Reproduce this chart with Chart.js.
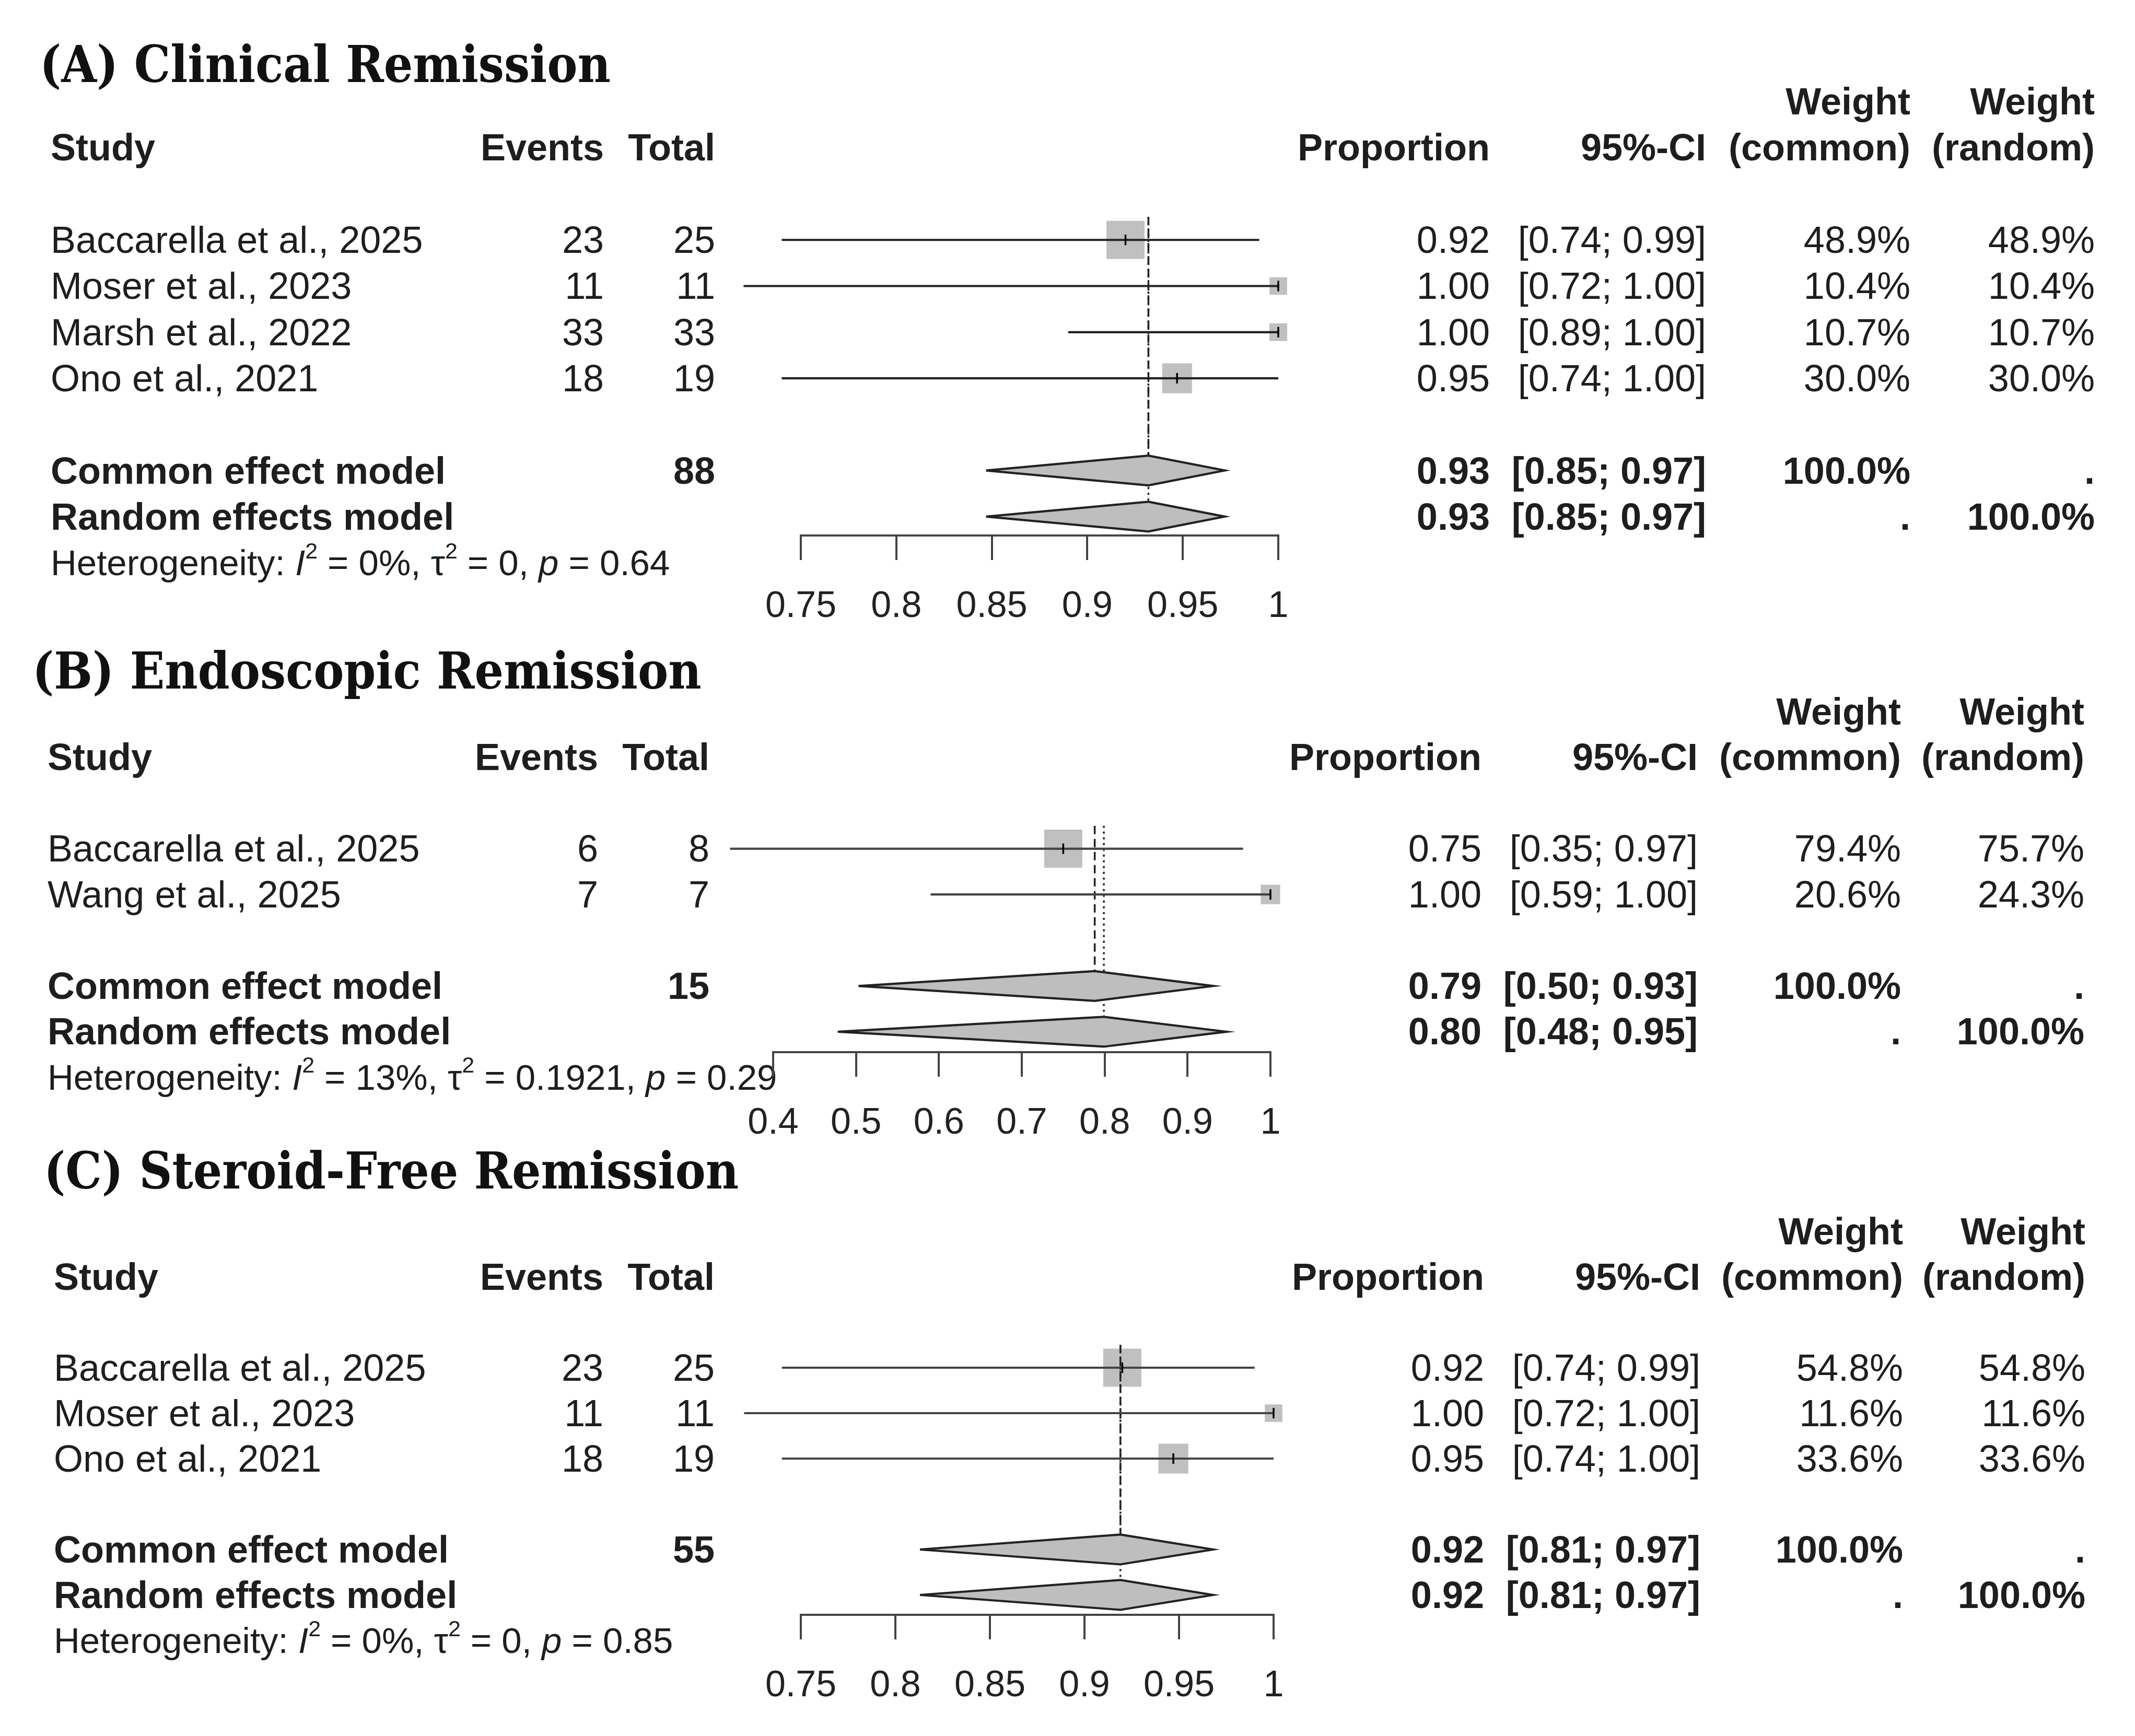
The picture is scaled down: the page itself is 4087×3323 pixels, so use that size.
<!DOCTYPE html>
<html lang="en">
<head>
<meta charset="UTF-8">
<title>Forest plots - remission outcomes</title>
<script src="https://cdn.jsdelivr.net/npm/chart.js"></script>
<style>
  html, body { margin: 0; padding: 0; background: #fff; }
  #page {
    position: relative; width: 4087px; height: 3323px; overflow: hidden; background: #fff;
    color: #1e1e1e; font-family: 'Liberation Sans', Arial, sans-serif; font-size: 72px;
  }
  .t { position: absolute; white-space: nowrap; line-height: 1; transform: translateY(-50%); }
  .b { font-weight: bold; }
  .het { font-size: 69px; }
  .title { font-family: 'DejaVu Serif Condensed', 'DejaVu Serif', serif; font-stretch: condensed; font-weight: bold; font-size: 97px; color: #111; }
  .sup { font-size: 0.62em; position: relative; top: -0.75em; }
  canvas { position: absolute; }
</style>
</head>
<body>
<div id="page"></div>
<script>
// ---- (A) Clinical Remission ----
const titleA = '(A) Clinical Remission';
const studiesA = ['Baccarella et al., 2025', 'Moser et al., 2023', 'Marsh et al., 2022', 'Ono et al., 2021'];
const eventsA = [23, 11, 33, 18];
const totalsA = [25, 11, 33, 19];
const propA = [0.92, 1.00, 1.00, 0.947];
const lowerA = [0.74, 0.72, 0.89, 0.74];
const upperA = [0.99, 1.00, 1.00, 1.00];
const weightCommonA = [48.9, 10.4, 10.7, 30.0];
const weightRandomA = [48.9, 10.4, 10.7, 30.0];
const pooledA = [0.932, 0.932];          // common, random
const pooledLowerA = [0.847, 0.847];
const pooledUpperA = [0.972, 0.972];
const pooledTotalA = 88;
const hetA = ['0%', '0', '0.64'];        // I^2, tau^2, p
const ticksA = [0.75, 0.8, 0.85, 0.9, 0.95, 1];

// ---- (B) Endoscopic Remission ----
const titleB = '(B) Endoscopic Remission';
const studiesB = ['Baccarella et al., 2025', 'Wang et al., 2025'];
const eventsB = [6, 7];
const totalsB = [8, 7];
const propB = [0.75, 1.00];
const lowerB = [0.348, 0.59];
const upperB = [0.967, 1.00];
const weightCommonB = [79.4, 20.6];
const weightRandomB = [75.7, 24.3];
const pooledB = [0.788, 0.799];
const pooledLowerB = [0.503, 0.478];
const pooledUpperB = [0.931, 0.947];
const pooledTotalB = 15;
const hetB = ['13%', '0.1921', '0.29'];
const ticksB = [0.4, 0.5, 0.6, 0.7, 0.8, 0.9, 1];

// ---- (C) Steroid-Free Remission ----
const titleC = '(C) Steroid-Free Remission';
const studiesC = ['Baccarella et al., 2025', 'Moser et al., 2023', 'Ono et al., 2021'];
const eventsC = [23, 11, 18];
const totalsC = [25, 11, 19];
const propC = [0.92, 1.00, 0.947];
const lowerC = [0.74, 0.72, 0.74];
const upperC = [0.99, 1.00, 1.00];
const weightCommonC = [54.8, 11.6, 33.6];
const weightRandomC = [54.8, 11.6, 33.6];
const pooledC = [0.919, 0.919];
const pooledLowerC = [0.813, 0.813];
const pooledUpperC = [0.968, 0.968];
const pooledTotalC = 55;
const hetC = ['0%', '0', '0.85'];
const ticksC = [0.75, 0.8, 0.85, 0.9, 0.95, 1];

// page geometry (pixels) for each panel
const geoA = { titleX: 76, titleY: 123, rowY: 459, pitch: 88.3, axisRow: 7.41, px0: 1533, px1: 2447,
               cols: [97, 1156, 1369, 2852, 3266, 3657, 4010], ink: '#222' };
const geoB = { titleX: 62, titleY: 1284, rowY: 1624, pitch: 87.5, axisRow: 5.446, px0: 1480, px1: 2432,
               cols: [91, 1145, 1358, 2836, 3250, 3639, 3990], ink: '#444' };
const geoC = { titleX: 84, titleY: 2241, rowY: 2618, pitch: 87, axisRow: 6.437, px0: 1533, px1: 2438,
               cols: [103, 1155, 1368, 2841, 3255, 3643, 3992], ink: '#444' };

const page = document.getElementById('page');
const W = 4087;
const fmt2 = v => v.toFixed(2);
const pct = v => v.toFixed(1) + '%';
const ci = (lo, hi) => '[' + fmt2(lo) + '; ' + fmt2(hi) + ']';

function put(x, y, html, cls, align) {
    const d = document.createElement('div');
    d.className = 't ' + (cls || '');
    if (align === 'right') d.style.right = (W - x) + 'px';
    else d.style.left = x + 'px';
    d.style.top = y + 'px';
    d.innerHTML = html;
    page.appendChild(d);
}

function drawPanel(p, g) {
    // row r (1 = first study) -> page y
    const rowPx = r => g.rowY + (r - 1) * g.pitch;
    const n = p.studies.length;
    const rowCommon = n + 2, rowRandom = n + 3, rowHet = n + 4;
    const [cStudy, cEvents, cTotal, cProp, cCI, cWc, cWr] = g.cols;

    put(g.titleX, g.titleY, p.title, 'title');

    put(cWc, rowPx(-2), 'Weight', 'b', 'right');
    put(cWr, rowPx(-2), 'Weight', 'b', 'right');
    put(cStudy, rowPx(-1), 'Study', 'b');
    put(cEvents, rowPx(-1), 'Events', 'b', 'right');
    put(cTotal, rowPx(-1), 'Total', 'b', 'right');
    put(cProp, rowPx(-1), 'Proportion', 'b', 'right');
    put(cCI, rowPx(-1), '95%-CI', 'b', 'right');
    put(cWc, rowPx(-1), '(common)', 'b', 'right');
    put(cWr, rowPx(-1), '(random)', 'b', 'right');

    p.studies.forEach((s, i) => {
        const y = rowPx(i + 1);
        put(cStudy, y, s);
        put(cEvents, y, String(p.events[i]), '', 'right');
        put(cTotal, y, String(p.totals[i]), '', 'right');
        put(cProp, y, fmt2(p.prop[i]), '', 'right');
        put(cCI, y, ci(p.lower[i], p.upper[i]), '', 'right');
        put(cWc, y, pct(p.wCommon[i]), '', 'right');
        put(cWr, y, pct(p.wRandom[i]), '', 'right');
    });

    let y = rowPx(rowCommon);
    put(cStudy, y, 'Common effect model', 'b');
    put(cTotal, y, String(p.pooledTotal), 'b', 'right');
    put(cProp, y, fmt2(p.pooled[0]), 'b', 'right');
    put(cCI, y, ci(p.pooledLower[0], p.pooledUpper[0]), 'b', 'right');
    put(cWc, y, '100.0%', 'b', 'right');
    put(cWr, y, '.', 'b', 'right');

    y = rowPx(rowRandom);
    put(cStudy, y, 'Random effects model', 'b');
    put(cProp, y, fmt2(p.pooled[1]), 'b', 'right');
    put(cCI, y, ci(p.pooledLower[1], p.pooledUpper[1]), 'b', 'right');
    put(cWc, y, '.', 'b', 'right');
    put(cWr, y, '100.0%', 'b', 'right');

    put(cStudy, rowPx(rowHet),
        'Heterogeneity: <i>I</i><span class="sup">2</span> = ' + p.het[0] +
        ', \u03C4<span class="sup">2</span> = ' + p.het[1] + ', <i>p</i> = ' + p.het[2], 'het');

    // ---- plot area: chart area spans the axis range, rows 0 .. axisRow ----
    const cv = document.createElement('canvas');
    const left = g.px0 - 260, right = g.px1 + 130;
    const top = rowPx(0) - 10;
    const axisH = 200;
    const cw = Math.round(right - left);
    const ch = Math.round(rowPx(g.axisRow) + axisH - top);
    cv.width = cw; cv.height = ch;
    cv.style.left = left + 'px'; cv.style.top = top + 'px';
    cv.style.width = cw + 'px'; cv.style.height = ch + 'px';
    page.appendChild(cv);

    const h = 28.5 / g.pitch;           // half height of the diamonds, in rows
    const wMax = Math.max(...p.wCommon);
    const pts = p.prop.map((v, i) => ({ x: v, y: i + 1 }));
    const datasets = [];

    datasets.push({ data: pts, showLine: false, pointStyle: 'line', pointRotation: 90, pointRadius: 10,
                    pointBorderColor: '#000', pointBorderWidth: 3.5, clip: false });
    p.lower.forEach((lo, i) => datasets.push({
        data: [{ x: lo, y: i + 1 }, { x: p.upper[i], y: i + 1 }],
        showLine: true, borderColor: g.ink, borderWidth: 4.2, pointRadius: 0, clip: false
    }));
    [rowCommon, rowRandom].forEach((r, k) => datasets.push({
        data: [{ x: p.pooledLower[k], y: r }, { x: p.pooled[k], y: r - h }, { x: p.pooledUpper[k], y: r },
               { x: p.pooled[k], y: r + h }, { x: p.pooledLower[k], y: r }],
        showLine: true, fill: 'shape', tension: 0, backgroundColor: '#bebebe',
        borderColor: '#222', borderWidth: 4.2, pointRadius: 0, clip: false
    }));
    datasets.push({ data: [{ x: p.pooled[0], y: 0.5 }, { x: p.pooled[0], y: rowCommon - h }],
                    showLine: true, borderColor: '#222', borderWidth: 3.5, borderDash: [16, 9], pointRadius: 0, clip: false });
    datasets.push({ data: [{ x: p.pooled[1], y: 0.5 }, { x: p.pooled[1], y: rowRandom - h }],
                    showLine: true, borderColor: '#222', borderWidth: 3.5, borderDash: [4, 7], pointRadius: 0, clip: false });
    datasets.push({ data: pts, showLine: false, pointStyle: 'rect',
                    pointRadius: p.wCommon.map(w => 73 * Math.sqrt(w / wMax) / Math.SQRT2),
                    pointBackgroundColor: '#c0c0c0', pointBorderWidth: 0, clip: false });

    new Chart(cv, {
        type: 'scatter',
        data: { datasets },
        options: {
            responsive: false,
            animation: false,
            events: [],
            layout: { autoPadding: false, padding: { left: g.px0 - left, right: right - g.px1, top: 10, bottom: 0 } },
            plugins: { legend: { display: false }, tooltip: { enabled: false } },
            scales: {
                x: {
                    type: 'linear',
                    min: p.ticks[0],
                    max: p.ticks[p.ticks.length - 1],
                    afterBuildTicks: s => { s.ticks = p.ticks.map(v => ({ value: v })); },
                    afterFit: s => { s.height = axisH; },
                    grid: { display: true, drawOnChartArea: false, drawTicks: true, tickLength: 47,
                            color: '#444', tickColor: '#444', lineWidth: 4, tickWidth: 4 },
                    border: { display: true, color: '#444', width: 4 },
                    ticks: { autoSkip: false, maxRotation: 0, padding: 48, color: '#222',
                             font: { family: 'Liberation Sans', size: 70 },
                             callback: v => String(v) }
                },
                y: { type: 'linear', display: false, min: 0, max: g.axisRow, reverse: true }
            }
        }
    });
}

drawPanel({ title: titleA, studies: studiesA, events: eventsA, totals: totalsA, prop: propA,
            lower: lowerA, upper: upperA, wCommon: weightCommonA, wRandom: weightRandomA,
            pooled: pooledA, pooledLower: pooledLowerA, pooledUpper: pooledUpperA,
            pooledTotal: pooledTotalA, het: hetA, ticks: ticksA }, geoA);
drawPanel({ title: titleB, studies: studiesB, events: eventsB, totals: totalsB, prop: propB,
            lower: lowerB, upper: upperB, wCommon: weightCommonB, wRandom: weightRandomB,
            pooled: pooledB, pooledLower: pooledLowerB, pooledUpper: pooledUpperB,
            pooledTotal: pooledTotalB, het: hetB, ticks: ticksB }, geoB);
drawPanel({ title: titleC, studies: studiesC, events: eventsC, totals: totalsC, prop: propC,
            lower: lowerC, upper: upperC, wCommon: weightCommonC, wRandom: weightRandomC,
            pooled: pooledC, pooledLower: pooledLowerC, pooledUpper: pooledUpperC,
            pooledTotal: pooledTotalC, het: hetC, ticks: ticksC }, geoC);
</script>
</body>
</html>
